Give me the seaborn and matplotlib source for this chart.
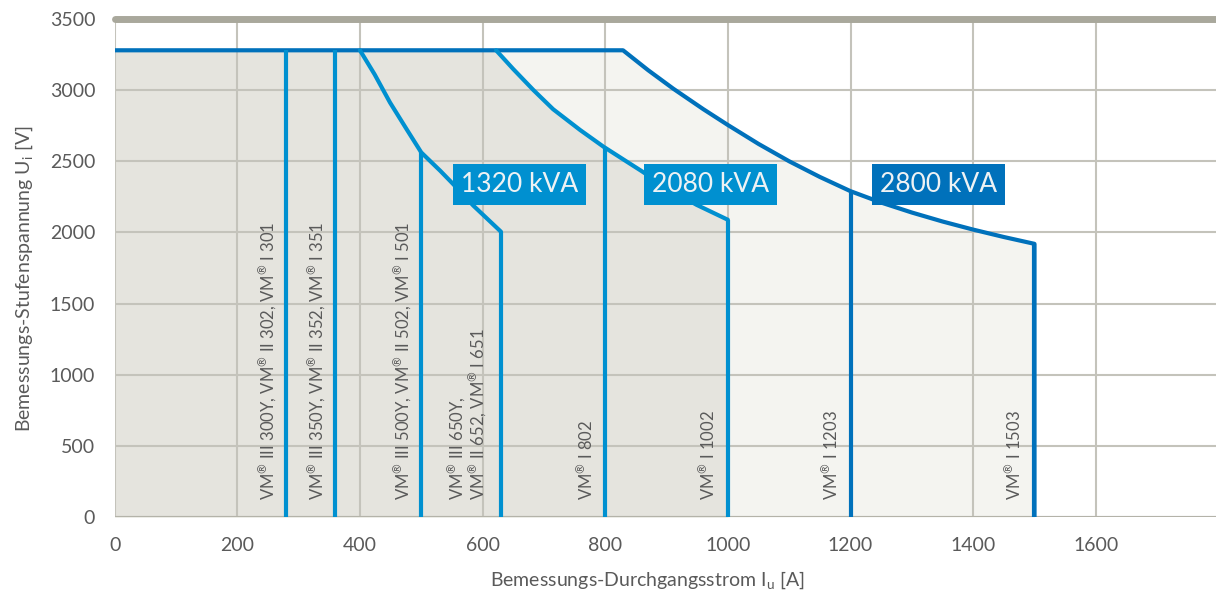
import pandas as pd
import matplotlib.pyplot as plt
import seaborn as sns
import numpy as np

# envelope values (current I in A, step voltage U in V)
u_max = 3280
i_2800 = [0, 829, 870, 911, 960, 1000, 1050, 1100, 1150, 1200, 1250, 1300, 1350, 1400, 1450, 1500]
u_2800 = [u_max, u_max, 3140, 3010, 2866, 2755, 2622, 2500, 2390, 2290, 2210, 2140, 2077, 2020, 1968, 1920]
i_2080 = [622, 650, 683, 715, 759, 797, 835, 859, 900, 949, 1000]
u_2080 = [u_max, 3148, 3000, 2866, 2720, 2603, 2498, 2432, 2315, 2194, 2089]
i_1320 = [400, 424, 449, 476, 500, 531, 552, 585, 630]
u_1320 = [u_max, 3110, 2913, 2726, 2562, 2433, 2340, 2188, 2005]

# vertical rating lines: current, top voltage, dark?
line_i = [280, 360, 500, 630, 800, 1000, 1200, 1500]
line_u = [u_max, u_max, 2562, 2005, 2600, 2089, 2290, 1920]
line_dark = [False, False, False, False, False, False, True, True]

label_i = [248, 328, 468, 574, 768, 968, 1168, 1466]
label_txt = [
    'VM$^{®}$ III 300Y, VM$^{®}$ II 302, VM$^{®}$ I 301',
    'VM$^{®}$ III 350Y, VM$^{®}$ II 352, VM$^{®}$ I 351',
    'VM$^{®}$ III 500Y, VM$^{®}$ II 502, VM$^{®}$ I 501',
    'VM$^{®}$ III 650Y,\nVM$^{®}$ II 652, VM$^{®}$ I 651',
    'VM$^{®}$ I 802',
    'VM$^{®}$ I 1002',
    'VM$^{®}$ I 1203',
    'VM$^{®}$ I 1503',
]

kva_txt = ['1320 kVA', '2080 kVA', '2800 kVA']
kva_i = [660, 972, 1343]
kva_u = [2339, 2339, 2339]

x_ticks = [0, 200, 400, 600, 800, 1000, 1200, 1400, 1600]
y_ticks = [0, 500, 1000, 1500, 2000, 2500, 3000, 3500]

LIGHT = '#0090d0'
DARK = '#0071bb'
GRID = '#c4c3bb'
TXT = '#5a5a5a'

sns.set_theme(style='white')
plt.rcParams['font.family'] = ['Lato', 'DejaVu Sans']
plt.rcParams['mathtext.fontset'] = 'custom'
plt.rcParams['mathtext.rm'] = 'Lato'
plt.rcParams['mathtext.it'] = 'Lato:italic'

fig = plt.figure(figsize=(12.16, 5.93), dpi=100)
ax = fig.add_axes([0.0943, 0.128, 0.9057, 0.840])

# filled areas
ax.fill_between(i_2800 + [1500], u_2800 + [0], 0, color='#f4f4f0', lw=0, zorder=1)
fill_i = [0] + i_2080
fill_u = [u_max] + u_2080
ax.fill_between(fill_i, fill_u, 0, color='#e5e4de', lw=0, zorder=1)

# curves
curves = pd.concat([
    pd.DataFrame({'I': i_2800 + [1500], 'U': u_2800 + [0], 'kva': '2800'}),
    pd.DataFrame({'I': i_2080, 'U': u_2080, 'kva': '2080'}),
    pd.DataFrame({'I': i_1320, 'U': u_1320, 'kva': '1320'}),
])
sns.lineplot(data=curves, x='I', y='U', hue='kva', sort=False, estimator=None,
             palette={'2800': DARK, '2080': LIGHT, '1320': LIGHT},
             lw=3, legend=False, ax=ax, zorder=3)
for x, top, dark in zip(line_i, line_u, line_dark):
    ax.vlines(x, 0, top, color=DARK if dark else LIGHT, lw=3, zorder=3)

# model labels
for x, t in zip(label_i, label_txt):
    ax.text(x, 118, t, rotation=90, ha='center', va='bottom', multialignment='left',
            fontsize=12, color=TXT, zorder=4, linespacing=0.95)

for x, y, t in zip(kva_i, kva_u, kva_txt):
    ax.text(x, y, t, ha='center', va='center', fontsize=19, color='#eef2f4', zorder=5,
            bbox=dict(boxstyle='square,pad=0.3', fc=DARK if t.startswith('2800') else LIGHT, ec='none'))

# grid and frame
ax.set_axisbelow('line')
ax.set_xticks(x_ticks)
ax.set_yticks(y_ticks)
ax.grid(True, color=GRID, lw=1.5)
ax.set_xlim(0, 1796)
ax.set_ylim(0, 3500)
for s in ax.spines.values():
    s.set_visible(False)
ax.axhline(3500, color='#a9a89c', lw=5, clip_on=False, zorder=2)
ax.axhline(0, color='#b4b3a9', lw=1.5, zorder=2)

ax.tick_params(axis='both', length=0, labelsize=14, labelcolor=TXT)
ax.tick_params(axis='x', pad=14)
ax.tick_params(axis='y', pad=14)
ax.set_xlabel('Bemessungs-Durchgangsstrom I$_\\mathrm{u}$ [A]', fontsize=14, color=TXT)
ax.set_ylabel('Bemessungs-Stufenspannung U$_\\mathrm{i}$ [V]', fontsize=14, color=TXT)
ax.xaxis.set_label_coords(0.484, -0.105)
ax.yaxis.set_label_coords(-0.072, 0.478)

fig.savefig('out.png', dpi=100)
